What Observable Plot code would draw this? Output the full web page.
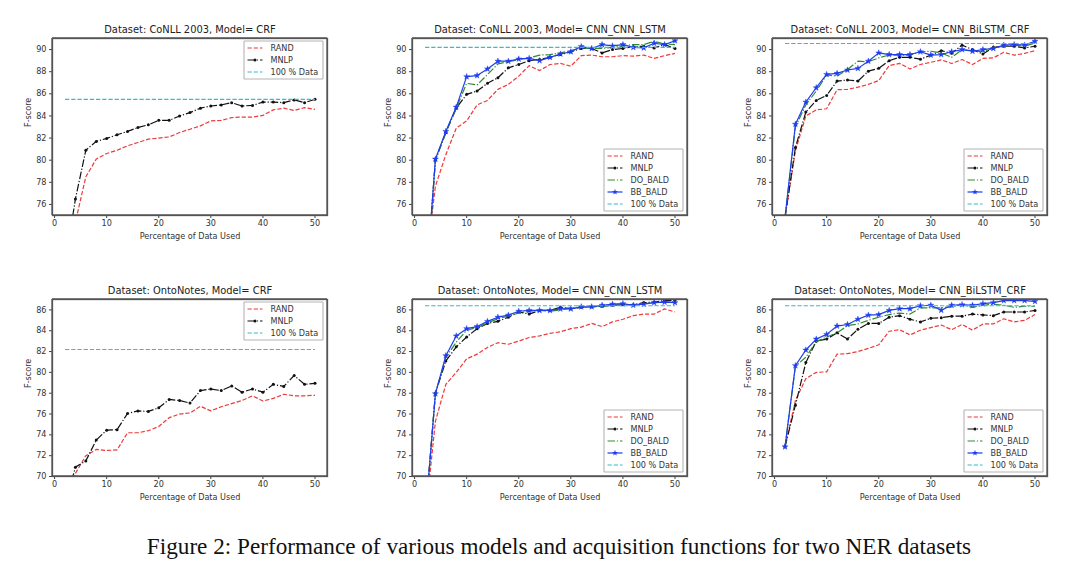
<!DOCTYPE html>
<html>
<head>
<meta charset="utf-8">
<script src="https://cdn.jsdelivr.net/npm/d3@7"></script>
<script src="https://cdn.jsdelivr.net/npm/@observablehq/plot@0.6"></script>
<style>
  html, body { margin: 0; padding: 0; background: #fff; }
  #wrap { position: relative; width: 1080px; height: 586px; background: #fff; overflow: hidden; }
  .panel { position: absolute; width: 360px; height: 250px; }
  .panel svg { display: block; }
  #caption { position: absolute; left: 19px; width: 1080px; top: 535px; text-align: center;
    font-family: "Liberation Serif", "Times New Roman", serif; font-size: 23.2px; line-height: 1; color: #111; }
</style>
</head>
<body>
<div id="wrap">
  <div id="caption">Figure 2: Performance of various models and acquisition functions for two NER datasets</div>
</div>
<script>
// ---------- data ----------
const pct = [2,4,6,8,10,12,14,16,18,20,22,24,26,28,30,32,34,36,38,40,42,44,46,48,50];
const xTicks = [0,10,20,30,40,50];
const yTicksConll = [76,78,80,82,84,86,88,90];
const yTicksOnto = [70,72,74,76,78,80,82,84,86];

// CoNLL 2003, CRF
const conllCrfRand = [68.0,74.4,78.5,80.1,80.6,80.9,81.3,81.6,81.9,82.0,82.1,82.5,82.8,83.1,83.55,83.6,83.85,83.9,83.9,84.05,84.55,84.7,84.5,84.75,84.6];
const conllCrfMnlp = [70.5,76.5,80.9,81.7,81.97,82.3,82.6,82.95,83.2,83.6,83.6,84.0,84.3,84.7,84.9,85.0,85.2,84.9,84.95,85.25,85.25,85.2,85.45,85.2,85.5];
const conllCrfFull = 85.5;

// CoNLL 2003, CNN_CNN_LSTM
const conllCnnRand = [70.0,77.65,80.5,82.9,83.55,85.0,85.4,86.4,86.85,87.6,88.55,88.1,88.65,88.75,88.5,89.45,89.5,89.35,89.35,89.45,89.4,89.5,89.2,89.45,89.65];
const conllCnnMnlp = [67.3,80.0,82.5,84.7,85.95,86.25,86.95,87.45,88.35,88.65,89.0,89.1,89.3,89.55,89.8,90.1,90.1,89.7,90.0,90.1,90.25,90.3,90.15,90.45,90.1];
const conllCnnDo   = [67.3,80.0,82.5,84.7,86.95,86.8,87.75,88.7,88.9,89.1,89.25,89.5,89.55,89.7,89.9,90.15,90.1,90.1,90.2,90.33,90.45,90.45,90.75,90.5,90.45];
const conllCnnBb   = [67.3,80.1,82.6,84.8,87.55,87.65,88.25,88.95,88.95,89.15,89.2,89.0,89.3,89.6,89.8,90.27,90.1,90.45,90.33,90.45,90.2,90.15,90.57,90.45,90.8];
const conllCnnFull = 90.2;

// CoNLL 2003, CNN_BiLSTM_CRF
const conllBiRand = [74.8,80.85,84.0,84.55,84.65,86.37,86.4,86.6,86.85,87.2,88.55,88.75,88.25,88.65,88.85,89.07,88.74,89.1,88.65,89.2,89.25,89.75,89.5,89.65,89.9];
const conllBiMnlp = [74.8,81.15,84.35,85.4,85.85,87.15,87.25,87.15,88.05,88.3,89.0,89.3,89.3,89.13,89.5,89.9,89.67,90.4,90.0,89.6,90.2,90.3,90.3,90.15,90.3];
const conllBiDo   = [74.8,83.0,85.0,86.25,87.7,87.6,88.2,88.95,88.9,89.25,89.5,89.5,89.5,89.8,89.85,89.7,89.3,90.0,89.9,89.8,90.15,90.3,90.4,90.3,90.6];
const conllBiBb   = [74.8,83.25,85.25,86.55,87.75,87.85,88.15,88.3,88.95,89.7,89.55,89.55,89.55,89.8,89.5,89.55,89.8,90.0,89.85,90.0,90.1,90.4,90.45,90.4,90.75];
const conllBiFull = 90.55;

// OntoNotes, CRF
const ontoCrfRand = [67.5,70.3,72.0,72.6,72.5,72.55,74.2,74.2,74.4,74.8,75.65,76.0,76.1,76.75,76.3,76.7,77.0,77.3,77.75,77.25,77.5,77.9,77.75,77.75,77.8];
const ontoCrfMnlp = [67.3,70.9,71.5,73.5,74.45,74.5,76.05,76.3,76.25,76.6,77.4,77.3,77.05,78.25,78.4,78.25,78.7,78.1,78.4,78.1,78.85,78.65,79.7,78.85,78.95];
const ontoCrfFull = 82.2;

// OntoNotes, CNN_CNN_LSTM
const ontoCnnRand = [65.7,75.3,78.85,80.0,81.3,81.75,82.4,82.85,82.7,83.0,83.35,83.5,83.75,83.9,84.2,84.35,84.7,84.4,84.85,85.1,85.45,85.6,85.6,86.1,85.8];
const ontoCnnMnlp = [65.7,78.0,81.1,82.45,83.4,84.2,84.7,84.9,85.3,85.8,85.6,85.95,85.95,86.25,86.1,86.25,86.3,86.35,86.45,86.5,86.5,86.7,86.75,86.9,86.9];
const ontoCnnDo   = [65.7,78.0,81.45,82.9,84.05,84.3,84.75,85.15,85.4,85.7,85.87,85.95,85.87,86.0,86.2,86.25,86.3,86.35,86.45,86.5,86.5,86.6,86.7,86.75,86.75];
const ontoCnnBb   = [65.7,77.95,81.6,83.5,84.2,84.4,84.9,85.3,85.5,85.87,85.95,85.95,85.95,86.1,86.1,86.3,86.3,86.45,86.55,86.6,86.45,86.55,86.7,86.75,86.7];
const ontoCnnFull = 86.4;

// OntoNotes, CNN_BiLSTM_CRF
const ontoBiRand = [72.85,77.3,79.4,80.0,80.05,81.75,81.8,82.0,82.3,82.65,83.95,84.1,83.6,84.05,84.3,84.55,84.1,84.6,84.05,84.65,84.65,85.15,84.85,85.0,85.55];
const ontoBiMnlp = [72.85,76.85,80.95,83.0,83.2,83.8,83.2,84.15,84.7,84.7,85.3,85.45,85.1,84.85,85.2,85.25,85.4,85.4,85.6,85.52,85.45,85.8,85.8,85.8,85.95];
const ontoBiDo   = [72.85,80.6,81.45,82.95,83.4,83.8,84.5,84.65,85.0,85.3,85.55,85.7,85.6,86.2,86.2,86.2,86.3,86.5,86.25,86.45,86.55,86.45,86.25,86.35,86.35];
const ontoBiBb   = [72.85,80.65,82.15,83.2,83.65,84.45,84.6,85.1,85.5,85.55,85.95,86.12,86.12,86.4,86.45,85.97,86.45,86.5,86.45,86.6,86.7,86.9,86.9,86.9,86.82];
const ontoBiFull = 86.4;

// ---------- styles ----------
const DASH = "4.3,1.9";
const DASHDOT = "7.5,1.9,1.2,1.9";
const seriesStyle = {
  "RAND":     {color: "#ee3a3a", dash: DASH, marker: null},
  "MNLP":     {color: "#111111", dash: DASHDOT, marker: "circle"},
  "DO_BALD":  {color: "#2e8b2e", dash: DASHDOT, marker: null},
  "BB_BALD":  {color: "#1f3cf0", dash: null, marker: "star"},
  "100 % Data": {color: "#30c0c8", dash: DASH, marker: null}
};

const panels = [
  {left: 0,   top: 0,   title: "Dataset: CoNLL 2003, Model= CRF", yDomain: [75, 91], yTicks: yTicksConll, legend: "top",
   series: [["RAND", conllCrfRand], ["MNLP", conllCrfMnlp]], full: conllCrfFull},
  {left: 360, top: 0,   title: "Dataset: CoNLL 2003, Model= CNN_CNN_LSTM", yDomain: [75, 91], yTicks: yTicksConll, legend: "bottom",
   series: [["RAND", conllCnnRand], ["MNLP", conllCnnMnlp], ["DO_BALD", conllCnnDo], ["BB_BALD", conllCnnBb]], full: conllCnnFull},
  {left: 720, top: 0,   title: "Dataset: CoNLL 2003, Model= CNN_BiLSTM_CRF", yDomain: [75, 91], yTicks: yTicksConll, legend: "bottom",
   series: [["RAND", conllBiRand], ["MNLP", conllBiMnlp], ["DO_BALD", conllBiDo], ["BB_BALD", conllBiBb]], full: conllBiFull},
  {left: 0,   top: 261, title: "Dataset: OntoNotes, Model= CRF", yDomain: [70, 87], yTicks: yTicksOnto, legend: "top",
   series: [["RAND", ontoCrfRand], ["MNLP", ontoCrfMnlp]], full: ontoCrfFull},
  {left: 360, top: 261, title: "Dataset: OntoNotes, Model= CNN_CNN_LSTM", yDomain: [70, 87], yTicks: yTicksOnto, legend: "bottom",
   series: [["RAND", ontoCnnRand], ["MNLP", ontoCnnMnlp], ["DO_BALD", ontoCnnDo], ["BB_BALD", ontoCnnBb]], full: ontoCnnFull},
  {left: 720, top: 261, title: "Dataset: OntoNotes, Model= CNN_BiLSTM_CRF", yDomain: [70, 87], yTicks: yTicksOnto, legend: "bottom",
   series: [["RAND", ontoBiRand], ["MNLP", ontoBiMnlp], ["DO_BALD", ontoBiDo], ["BB_BALD", ontoBiBb]], full: ontoBiFull}
];

const W = 360, H = 250, ML = 52, MR = 33, MT = 38, MB = 35;
const LW = 1.2;
const FONT = "DejaVu Sans, sans-serif";
const FS = 8.1;

function boxLines(sel, L, T, R, B, color, width) {
  const g = sel.append("g").attr("stroke", color).attr("stroke-width", width).attr("fill", "none");
  [[L, T, R, T], [R, T, R, B], [L, B, R, B], [L, T, L, B]].forEach(([a, b, c, d]) => {
    g.append("line").attr("x1", a).attr("y1", b).attr("x2", c).attr("y2", d);
  });
  return g;
}

function makePanel(p) {
  const marks = [];
  for (const [name, vals] of p.series) {
    const st = seriesStyle[name];
    const data = pct.map((x, i) => ({x, y: vals[i]}));
    marks.push(Plot.line(data, {x: "x", y: "y", stroke: st.color, strokeWidth: LW,
      strokeDasharray: st.dash || undefined, strokeLinecap: "butt", strokeLinejoin: "round", clip: true}));
    if (st.marker === "circle") {
      marks.push(Plot.dot(data, {x: "x", y: "y", r: 1.5, fill: st.color, stroke: "none", clip: true}));
    } else if (st.marker === "star") {
      marks.push(Plot.dot(data, {x: "x", y: "y", r: 1.9, symbol: "star", fill: st.color, stroke: st.color, strokeWidth: 0.4, clip: true}));
    }
  }
  const fullSt = seriesStyle["100 % Data"];
  const fullData = [d3.min(pct), d3.max(pct)].map(x => ({x, y: p.full}));
  marks.push(Plot.line(fullData, {x: "x", y: "y", stroke: fullSt.color, strokeWidth: LW, strokeDasharray: fullSt.dash, strokeLinecap: "butt"}));

  marks.push(Plot.frame({stroke: "#555555", strokeWidth: 1.3}));
  marks.push(Plot.axisX({ticks: xTicks, tickSize: 3, tickPadding: 2, label: null, stroke: "#444", fill: "#333"}));
  marks.push(Plot.axisY({ticks: p.yTicks, tickSize: 3, tickPadding: 3, label: null, stroke: "#444", fill: "#333"}));
  marks.push(Plot.text([p.title], {frameAnchor: "top", dy: -9, lineAnchor: "middle", fontSize: 9.9, fill: "#222"}));
  marks.push(Plot.text(["Percentage of Data Used"], {frameAnchor: "bottom", dy: 21, lineAnchor: "middle", fontSize: FS, fill: "#333"}));
  marks.push(Plot.text(["F-score"], {frameAnchor: "left", dx: -24, rotate: -90, lineAnchor: "middle", fontSize: FS, fill: "#333"}));

  const svg = Plot.plot({
    width: W, height: H,
    marginLeft: ML, marginRight: MR, marginTop: MT, marginBottom: MB,
    x: {domain: [-0.4, 52.4]},
    y: {domain: p.yDomain},
    style: {fontFamily: FONT, fontSize: FS + "px", color: "#333", background: "transparent"},
    marks
  });

  const L = ML, R = W - MR, T = MT, B = H - MB;
  const root = d3.select(svg);
  // axes box (matplotlib spines)
  boxLines(root, L, T, R, B, "#555555", 1.3);

  // legend (matplotlib style box)
  const names = p.series.map(s => s[0]).concat(["100 % Data"]);
  const rowH = 12, boxW = 79, boxH = names.length * rowH + 2;
  const bx = R - 4 - boxW;
  const by = p.legend === "top" ? T + 3 : B - 4 - boxH;
  const g = root.append("g").attr("font-family", FONT).attr("font-size", FS).attr("text-anchor", "start");
  g.append("rect").attr("x", bx).attr("y", by).attr("width", boxW).attr("height", boxH).attr("fill", "white").attr("fill-opacity", 0.85);
  boxLines(g, bx, by, bx + boxW, by + boxH, "#b4b4b4", 1.1);
  names.forEach((name, i) => {
    const st = seriesStyle[name];
    const cy = by + 7 + i * rowH;
    const x0 = bx + 3.5, x1 = bx + 18.5;
    g.append("line").attr("x1", x0).attr("x2", x1).attr("y1", cy).attr("y2", cy)
      .attr("stroke", st.color).attr("stroke-width", LW).attr("stroke-dasharray", st.dash || null);
    if (st.marker === "circle") {
      g.append("circle").attr("cx", (x0 + x1) / 2).attr("cy", cy).attr("r", 1.5).attr("fill", st.color);
    } else if (st.marker === "star") {
      g.append("path").attr("transform", `translate(${(x0 + x1) / 2},${cy})`)
        .attr("d", d3.symbol(d3.symbolStar, Math.PI * 1.9 * 1.9)()).attr("fill", st.color);
    }
    g.append("text").attr("x", bx + 26.5).attr("y", cy).attr("dy", "0.34em").attr("fill", "#333").text(name);
  });

  const div = document.createElement("div");
  div.className = "panel";
  div.style.left = p.left + "px";
  div.style.top = p.top + "px";
  div.appendChild(svg);
  document.getElementById("wrap").appendChild(div);
}

panels.forEach(makePanel);
</script>
</body>
</html>
